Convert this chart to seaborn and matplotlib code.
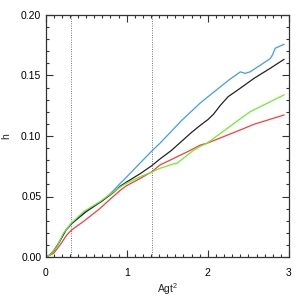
import matplotlib
matplotlib.use('Agg')
import matplotlib.pyplot as plt
from matplotlib.ticker import MultipleLocator, FormatStrFormatter
import pandas as pd
import seaborn as sns

# ---------------------------------------------------------
# Data
# ---------------------------------------------------------
black_x = [0, 0.05, 0.1, 0.15, 0.2, 0.25, 0.32, 0.4, 0.5, 0.6, 0.7, 0.84, 0.92,
           1.0, 1.17, 1.31, 1.41, 1.55, 1.7, 1.8, 1.91, 2.0, 2.07, 2.15, 2.25,
           2.4, 2.57, 2.77, 2.94]
black_y = [0, 0.0015, 0.005, 0.010, 0.016, 0.022, 0.0275, 0.032, 0.0375, 0.042,
           0.0465, 0.0535, 0.0585, 0.062, 0.069, 0.0755, 0.081, 0.088, 0.097,
           0.103, 0.109, 0.1135, 0.118, 0.125, 0.1325, 0.1395, 0.1477, 0.156,
           0.1634]

blue_x = [0, 0.05, 0.1, 0.15, 0.2, 0.25, 0.32, 0.4, 0.5, 0.6, 0.7, 0.78, 0.85,
          0.92, 1.0, 1.31, 1.41, 1.68, 1.91, 2.26, 2.40, 2.46, 2.52, 2.65, 2.77,
          2.80, 2.83, 2.94]
blue_y = [0, 0.0015, 0.005, 0.010, 0.016, 0.022, 0.0275, 0.032, 0.0375, 0.042,
          0.0465, 0.0512, 0.0558, 0.0608, 0.0662, 0.0876, 0.094, 0.113, 0.1275,
          0.1463, 0.153, 0.1518, 0.153, 0.1587, 0.164, 0.1675, 0.1725, 0.1758]

green_x = [0, 0.055, 0.14, 0.22, 0.315, 0.47, 0.67, 0.8, 0.92, 1.0, 1.17,
           1.31, 1.41, 1.58, 1.62, 1.82, 1.91, 1.99, 2.40, 2.52, 2.94]
green_y = [0, 0.0017, 0.0085, 0.0195, 0.0278, 0.0375, 0.0457, 0.052, 0.0578,
           0.061, 0.0664, 0.0702, 0.0733, 0.077, 0.0774, 0.088, 0.0915, 0.094,
           0.1142, 0.120, 0.134]

red_x = [0, 0.1, 0.18, 0.26, 0.315, 0.47, 0.67, 0.8, 0.92, 1.0, 1.17, 1.31,
         1.41, 1.78, 1.91, 1.99, 2.40, 2.57, 2.94]
red_y = [0, 0.003, 0.010, 0.018, 0.022, 0.0295, 0.040, 0.048, 0.055, 0.059,
         0.065, 0.0705, 0.076, 0.088, 0.0926, 0.094, 0.105, 0.1097, 0.1174]

series_names = ['blue', 'black', 'red', 'green']
series_colors = ['#3d9bff', '#222222', '#ff3a3a', '#6cec2c']
vlines_x = [0.32, 1.31]

# ---------------------------------------------------------
# Build long-form table
# ---------------------------------------------------------
frames = []
for name, xs, ys in zip(series_names,
                        [blue_x, black_x, red_x, green_x],
                        [blue_y, black_y, red_y, green_y]):
    frames.append(pd.DataFrame({'x': xs, 'y': ys, 'run': name}))
df = pd.concat(frames, ignore_index=True)

# ---------------------------------------------------------
# Plot
# ---------------------------------------------------------
sns.set_style('ticks')
plt.rcParams['font.family'] = ['Liberation Sans', 'DejaVu Sans']
plt.rcParams['mathtext.fontset'] = 'custom'
plt.rcParams['mathtext.rm'] = 'Liberation Sans'
plt.rcParams['mathtext.it'] = 'Liberation Sans'

fig = plt.figure(figsize=(3.03, 3.03), dpi=100)
ax = fig.add_axes([45.5 / 303, 46 / 303, 243.5 / 303, 242 / 303])

for xv in vlines_x:
    ax.axvline(xv, color='#555555', linestyle=(0, (0.8, 1.6)), lw=0.7, zorder=1)

sns.lineplot(data=df, x='x', y='y', hue='run', hue_order=series_names,
             palette=series_colors, estimator=None, sort=False, lw=0.9,
             legend=False, ax=ax, zorder=2)

ax.set_xlim(0, 3)
ax.set_ylim(0, 0.20)
ax.xaxis.set_major_locator(MultipleLocator(1))
ax.xaxis.set_minor_locator(MultipleLocator(0.1))
ax.yaxis.set_major_locator(MultipleLocator(0.05))
ax.yaxis.set_minor_locator(MultipleLocator(0.01))
ax.yaxis.set_major_formatter(FormatStrFormatter('%.2f'))
ax.xaxis.set_major_formatter(FormatStrFormatter('%d'))

ax.tick_params(which='both', direction='in', top=True, right=True,
               color='#333333', width=0.8, labelcolor='black')
ax.tick_params(which='major', length=5, labelsize=7.5, pad=8)
ax.tick_params(axis='y', which='major', pad=3)
ax.tick_params(which='minor', length=2.5)
for s in ax.spines.values():
    s.set_linewidth(0.9)
    s.set_color('#333333')

ax.set_xlabel('Agt$^2$', fontsize=7.5, labelpad=2)
ax.set_ylabel('h', fontsize=7.5, labelpad=7)

fig.savefig('out.png', dpi=100)
plt.close(fig)
